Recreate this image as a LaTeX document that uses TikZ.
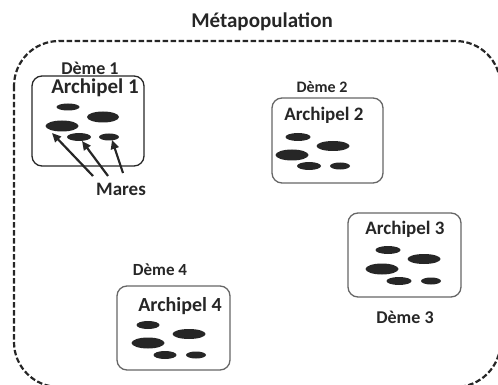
\documentclass[tikz,border=0pt]{standalone}
\usepackage{fontspec}
\setmainfont{Carlito}
\usetikzlibrary{arrows.meta,shapes.geometric}
\newcommand{\fsz}[1]{\bfseries\fontsize{#1}{#1}\selectfont}
\tikzset{
  lbl/.style={inner sep=0pt, text=black!85},
  archbox/.style={draw=black!60, line width=1.3pt, rounded corners=10pt},
  pond/.style={fill=black!85, draw=none, ellipse, inner sep=0pt},
  marearrow/.style={line width=2.2pt, black!85, -{Triangle[length=9pt,width=8pt]}},
}
\begin{document}
\begin{tikzpicture}[x=1pt,y=-1pt]
\useasboundingbox (0,0) rectangle (498,385);
\begin{scope}
\clip (0,0) rectangle (498,385);
\draw[line width=2.2pt, dash pattern=on 5.5pt off 2.5pt, rounded corners=45pt, black!85] (14,41) rectangle (500.5,387);
\end{scope}
\node[lbl, font=\fsz{21}] (title) at (262,22) {Métapopulation};

% Deme 1
\node[archbox, draw=black!85, minimum width=112pt, minimum height=90pt] (b1) at (88,121) {};
\node[lbl, font=\fsz{18}] (d1) at (90,68) {Dème 1};
\node[lbl, font=\fsz{21}] (a1) at (95,88) {Archipel 1};
\node[pond, minimum width=23pt, minimum height=7pt] (p11) at (68,107) {};
\node[pond, minimum width=32pt, minimum height=11pt] (p12) at (103,117) {};
\node[pond, minimum width=33pt, minimum height=11pt] (p13) at (62,126) {};
\node[pond, minimum width=24pt, minimum height=8pt] (p14) at (79,137) {};
\node[pond, minimum width=20pt, minimum height=7pt] (p15) at (109,137) {};
\node[lbl, font=\fsz{19}] (mares) at (121,189) {Mares};
\coordinate (m1) at (93,176);
\coordinate (m2) at (108,176);
\coordinate (m3) at (123,173);
\coordinate (t1) at (52,133);
\coordinate (t2) at (82,141);
\coordinate (t3) at (112,140);
\draw[marearrow] (m1) -- (t1);
\draw[marearrow] (m2) -- (t2);
\draw[marearrow] (m3) -- (t3);

% Deme 2
\node[archbox, minimum width=111pt, minimum height=85pt] (b2) at (327.5,140.5) {};
\node[lbl, font=\fsz{16}] (d2) at (322,87) {Dème 2};
\node[lbl, font=\fsz{19}] (a2) at (324,115) {Archipel 2};
\node[pond, minimum width=25pt, minimum height=8pt] (p21) at (298,137) {};
\node[pond, minimum width=33pt, minimum height=10pt] (p22) at (333,146) {};
\node[pond, minimum width=33pt, minimum height=11pt] (p23) at (292,155) {};
\node[pond, minimum width=24pt, minimum height=8pt] (p24) at (309,166) {};
\node[pond, minimum width=20pt, minimum height=7pt] (p25) at (340,166) {};

% Deme 3
\node[archbox, minimum width=113pt, minimum height=84pt] (b3) at (404.5,255) {};
\node[lbl, font=\fsz{19}] (a3) at (405,229) {Archipel 3};
\node[lbl, font=\fsz{18}] (d3) at (405,317) {Dème 3};
\node[pond, minimum width=25pt, minimum height=8pt] (p31) at (388,250) {};
\node[pond, minimum width=33pt, minimum height=10pt] (p32) at (424,259) {};
\node[pond, minimum width=33pt, minimum height=11pt] (p33) at (382,269) {};
\node[pond, minimum width=25pt, minimum height=8pt] (p34) at (399,281) {};
\node[pond, minimum width=20pt, minimum height=7pt] (p35) at (431,281) {};

% Deme 4
\node[archbox, minimum width=113pt, minimum height=84pt] (b4) at (173.5,328) {};
\node[lbl, font=\fsz{17}] (d4) at (160,270) {Dème 4};
\node[lbl, font=\fsz{20}] (a4) at (180,306) {Archipel 4};
\node[pond, minimum width=23pt, minimum height=8pt] (p41) at (148,325) {};
\node[pond, minimum width=33pt, minimum height=10pt] (p42) at (189,334) {};
\node[pond, minimum width=33pt, minimum height=11pt] (p43) at (148,343) {};
\node[pond, minimum width=23pt, minimum height=8pt] (p44) at (165,355) {};
\node[pond, minimum width=20pt, minimum height=7pt] (p45) at (196,355) {};
\end{tikzpicture}
\end{document}
